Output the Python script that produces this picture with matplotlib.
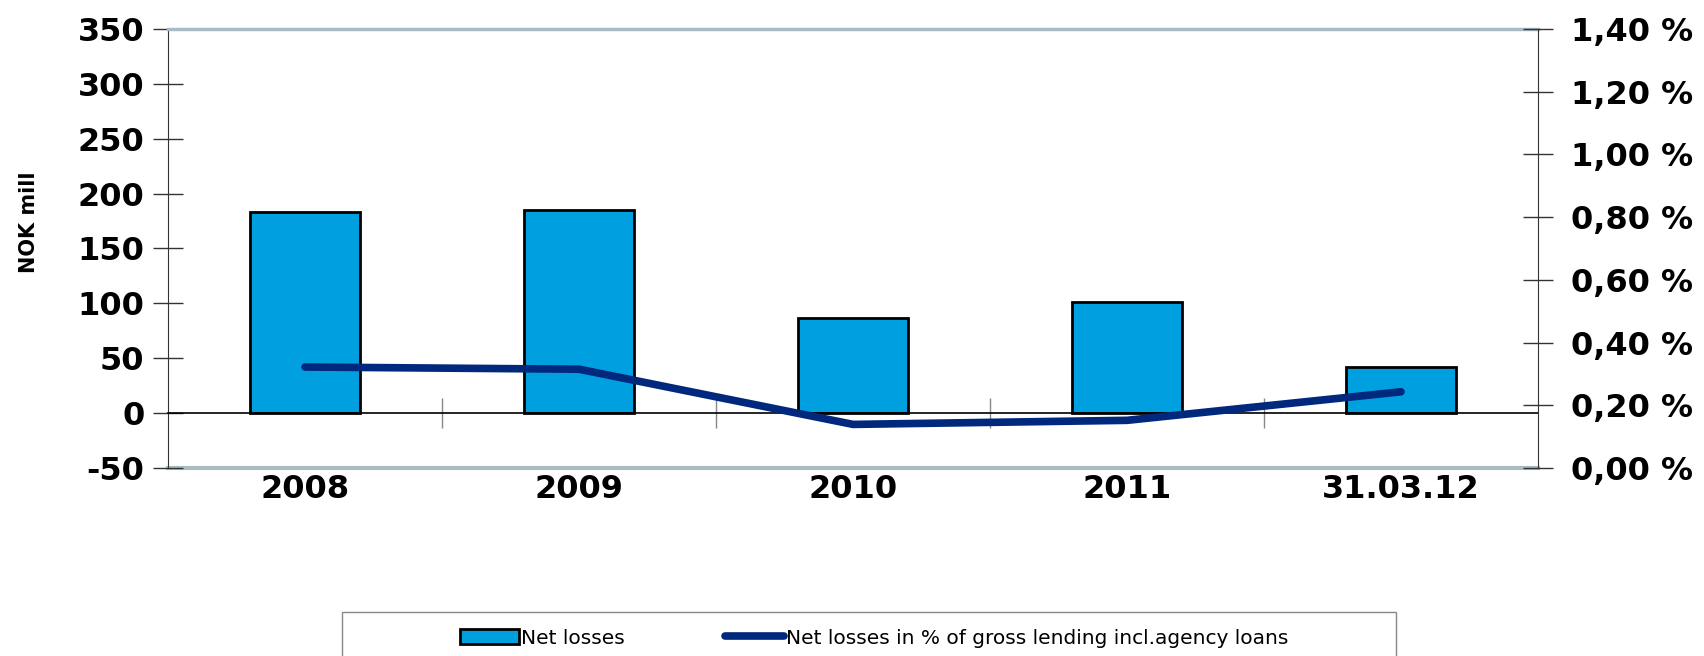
import matplotlib.pyplot as plt
from matplotlib.patches import Rectangle
from matplotlib.ticker import FuncFormatter

# data
categories = ['2008', '2009', '2010', '2011', '31.03.12']
net_losses = [183, 185, 87, 101, 42]
loss_pct = [0.322, 0.315, 0.139, 0.152, 0.243]

BAR_COLOR = '#00a0e0'
LINE_COLOR = '#00287c'
BORDER = '#a9bcc4'

plt.rcParams['font.family'] = ['DejaVu Sans']
plt.rcParams['axes.unicode_minus'] = False

fig = plt.figure(figsize=(17.04, 6.56), dpi=100)
ax = fig.add_axes([0.0986, 0.2866, 0.9026 - 0.0986, 0.9558 - 0.2866])

x = list(range(len(categories)))
ax.bar(x, net_losses, width=0.4, color=BAR_COLOR, edgecolor='black', linewidth=2, zorder=2)
ax.set_xlim(-0.5, len(categories) - 0.5)
ax.set_ylim(-50, 350)
ax.set_yticks(range(-50, 351, 50))

# zero line is the bottom spine, frame at -50 drawn separately
ax.spines['bottom'].set_position(('data', 0))
ax.spines['bottom'].set_color('black')
ax.spines['bottom'].set_linewidth(1.2)
ax.spines['top'].set_color(BORDER)
ax.spines['top'].set_linewidth(2.5)
ax.spines['left'].set_color('#333333')
ax.spines['right'].set_visible(False)
ax.axhline(-50, color=BORDER, linewidth=3, zorder=1, clip_on=False)

ax.set_xticks(x)
ax.set_xticklabels(categories, fontsize=23, fontweight='bold')
ax.tick_params(axis='x', which='major', length=0, pad=44)
ax.set_xticks([i + 0.5 for i in x[:-1]], minor=True)
ax.tick_params(axis='x', which='minor', direction='inout', length=22, color='#888888', width=1)
ax.tick_params(axis='y', direction='inout', length=22, color='#333333', width=1, pad=6,
               labelsize=23)
for lbl in ax.get_yticklabels():
    lbl.set_fontweight('bold')
ax.set_ylabel('NOK mill', fontsize=15, fontweight='bold')
ax.yaxis.set_label_coords(-0.094, 0.56)

ax2 = ax.twinx()
ax2.plot(x, loss_pct, color=LINE_COLOR, linewidth=5.5, solid_capstyle='round', zorder=3)
ax2.set_ylim(0, 1.4)
ax2.set_yticks([i * 0.2 for i in range(8)])
ax2.yaxis.set_major_formatter(FuncFormatter(lambda v, p: f'{v:.2f} %'.replace('.', ',')))
ax2.tick_params(axis='y', direction='inout', length=22, color='#333333', width=1, pad=13,
                labelsize=23)
for lbl in ax2.get_yticklabels():
    lbl.set_fontweight('bold')
for s in ['top', 'bottom', 'left']:
    ax2.spines[s].set_visible(False)
ax2.spines['right'].set_color('#333333')

# legend box running off the bottom edge
fig.patches.append(Rectangle((342 / 1704, -0.05), (1396 - 342) / 1704, 0.05 + 44 / 656,
                             transform=fig.transFigure, facecolor='white',
                             edgecolor='#888888', linewidth=1))
h1 = ax.patches[0]
h2 = ax2.lines[0]
leg = fig.legend([h1, h2], ['Net losses', 'Net losses in % of gross lending incl.agency loans'],
                 loc='center', bbox_to_anchor=(0.513, 1 - 638 / 656), ncol=2, frameon=False,
                 fontsize=14.5, handlelength=2.9, handletextpad=0.1, columnspacing=5.0)

fig.savefig('out.png', dpi=100)
